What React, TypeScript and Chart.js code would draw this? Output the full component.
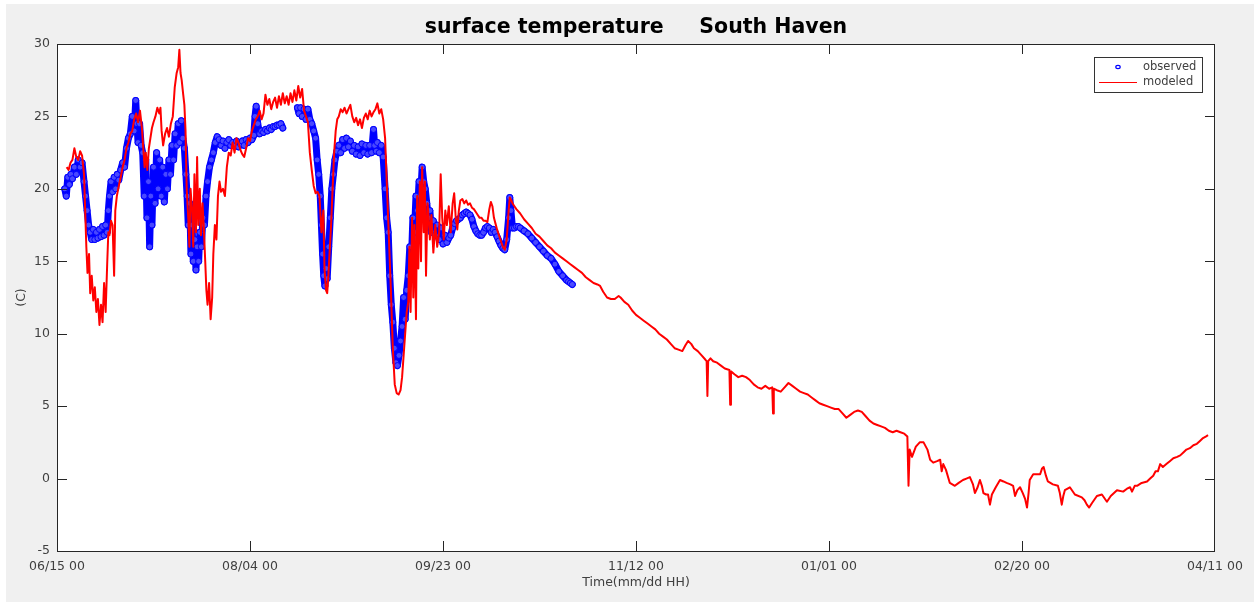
import React, { useEffect, useRef } from "react";
import { Chart, registerables } from "chart.js";

Chart.register(...registerables);

// x values are days since 06/15 00
const xTickDays = [0, 50, 100, 150, 200, 250, 300];
const xTickLabels = ["06/15 00", "08/04 00", "09/23 00", "11/12 00", "01/01 00", "02/20 00", "04/11 00"];
const yTicks = [-5, 0, 5, 10, 15, 20, 25, 30];

const titleText = "surface temperature     South Haven";
const xAxisTitle = "Time(mm/dd HH)";
const yAxisTitle = "(C)";
const legendLabels = ["observed", "modeled"];

// observed surface temperature (C): [day, value]
const observed: [number, number | null][] = [
  [2,20.0],[2.4,19.5],[2.8,20.8],[3.2,20.3],[3.6,21.0],[4,20.7],[4.5,21.5],[5,21.0],[5.5,22.0],[6,21.5],[6.5,21.8],[7,20.5],[7.4,19.5],[7.8,18.5],[8.2,17.5],[8.6,17.0],[9,16.5],[9.4,17.2],[9.8,16.5],[10.2,17.0],[10.6,16.6],[11,17.2],[11.4,16.7],[11.8,17.4],[12.2,16.8],[12.6,17.5],[13,17.0],[13.3,18.5],[13.6,19.5],[14,20.5],[14.4,19.8],[14.8,20.8],[15.2,20.0],[15.6,21.0],[16,20.6],[16.5,21.3],[17,21.8],[17.5,21.5],[18,22.8],[18.5,23.5],[19,23.8],[19.5,25.0],[20,24.0],[20.4,26.1],[20.7,24.5],[21,23.2],[21.4,24.5],[21.8,23.0],[22.2,22.5],[22.6,19.5],[23,22.0],[23.3,18.0],[23.7,20.5],[24,16.0],[24.3,19.5],[24.6,17.5],[25,21.5],[25.4,19.0],[25.8,22.5],[26.2,20.0],[26.6,22.0],[27,19.5],[27.4,21.5],[27.8,19.1],[28.2,21.0],[28.6,20.0],[29,22.0],[29.4,21.0],[29.8,23.0],[30.2,22.0],[30.6,23.8],[31,23.0],[31.4,24.5],[31.8,23.2],[32.2,24.7],[32.6,23.5],[33,22.8],[33.4,21.0],[33.7,19.5],[34,17.5],[34.4,19.0],[34.7,15.5],[35,17.5],[35.3,15.0],[35.7,16.5],[36,14.4],[36.3,16.0],[36.7,15.0],[37,17.0],[37.4,16.0],[37.8,18.0],[38.2,17.5],[38.6,19.5],[39,20.5],[39.5,21.5],[40,22.0],[40.5,22.5],[41,23.2],[41.5,23.6],[42,23.4],[42.5,23.0],[43,23.3],[43.5,22.8],[44,23.2],[44.5,23.4],[45,23.0],[45.5,23.2],[46,23.0],[46.5,23.3],[47,22.9],[47.5,23.1],[48,23.3],[48.5,23.0],[49,23.4],[49.5,23.2],[50,23.5],[50.5,23.4],[51,23.7],[51.3,25.0],[51.6,25.7],[52,24.5],[52.5,23.8],[53,24.0],[53.5,23.9],[54,24.1],[54.5,24.0],[55,24.2],[55.5,24.1],[56,24.3],[56.5,24.3],[57,24.4],[57.5,24.4],[58,24.5],[58.5,24.2],
  [60,null],
  [62.3,25.6],[62.7,25.2],[63.1,25.6],[63.5,25.0],[64,25.5],[64.5,24.8],[65,25.5],[65.5,24.8],[66,24.5],[66.5,24.0],[67,23.5],[67.4,22.0],[67.8,21.0],[68.2,19.5],[68.5,17.5],[68.8,15.5],[69.1,14.0],[69.4,13.3],[69.7,14.5],[70,13.8],[70.4,16.0],[70.8,18.0],[71.2,20.0],[71.6,21.0],[72,22.0],[72.5,22.6],[73,23.0],[73.5,22.5],[74,23.4],[74.5,22.8],[75,23.5],[75.5,22.9],[76,23.3],[76.5,22.6],[77,23.0],[77.5,22.4],[78,22.9],[78.5,22.3],[79,23.1],[79.5,22.5],[80,23.0],[80.5,22.4],[81,23.0],[81.5,22.5],[82,24.1],[82.3,23.0],[82.7,22.6],[83,23.2],[83.5,22.5],[84,23.0],[84.5,22.2],[85,20.0],[85.4,18.0],[85.8,17.0],[86.2,14.0],[86.6,12.0],[87,10.8],[87.4,9.0],[87.8,8.0],[88.2,7.8],[88.6,8.5],[89,9.5],[89.4,10.5],[89.8,12.5],[90.2,11.0],[90.6,13.0],[91,14.0],[91.4,16.0],[91.8,15.0],[92.2,18.0],[92.6,17.0],[93,19.5],[93.4,18.5],[93.8,20.5],[94.2,19.5],[94.6,21.5],[95,20.5],[95.4,20.0],[95.8,19.0],[96.2,18.0],[96.6,18.5],[97,17.0],[97.5,17.8],[98,16.8],[98.5,17.5],[99,16.5],[99.5,17.3],[100,16.2],[100.5,16.8],[101,16.3],[101.5,16.6],[102,16.8],[102.5,17.3],[103,17.6],[103.5,17.8],[104,17.9],[104.5,18.0],[105,18.2],[105.5,18.3],[106,18.4],[106.5,18.3],[107,18.2],[107.5,17.9],[108,17.4],[108.5,17.1],[109,16.9],[109.5,16.8],[110,16.8],[110.5,17.0],[111,17.3],[111.5,17.4],[112,17.3],[112.5,17.0],[113,17.2],[113.5,17.0],[114,16.7],[114.5,16.4],[115,16.1],[115.5,15.9],[116,15.8],[116.5,16.5],[117,18.0],[117.3,19.4],[117.6,18.5],[118,17.3],[118.5,17.3],[119,17.4],[119.5,17.4],[120,17.3],[121,17.1],[122,16.9],[123,16.6],[124,16.3],[125,16.0],[126,15.7],[127,15.4],[128,15.2],[129,14.8],[130,14.3],[131,14.0],[132,13.7],[132.5,13.6],[133,13.5],[133.5,13.4]
];

// modeled surface temperature (C): [day, value]
const modeled: [number, number][] = [
  [2.5,21.5],[3,21.3],[3.5,21.8],[4,22.0],[4.5,22.8],[5,22.2],[5.5,22.0],[6,22.6],[6.5,22.3],[7,21.0],[7.3,18.5],[7.6,16.0],[7.9,14.2],[8.3,15.5],[8.6,12.8],[9,14.0],[9.4,12.3],[9.8,13.2],[10.2,11.5],[10.6,12.4],[11,10.6],[11.4,12.0],[11.8,10.8],[12.2,13.5],[12.6,11.5],[13,14.8],[13.3,17.0],[13.6,16.8],[14,17.8],[14.4,17.5],[14.8,14.0],[15.1,18.5],[15.5,19.5],[16,20.2],[16.5,20.8],[17,21.5],[17.5,22.0],[18,22.8],[18.5,23.2],[19,23.8],[19.5,24.0],[20,24.8],[20.5,25.2],[21,24.6],[21.5,25.4],[22,24.2],[22.3,23.0],[22.7,21.5],[23,22.5],[23.4,21.3],[23.8,22.8],[24.2,23.5],[24.6,24.2],[25,24.6],[25.5,25.0],[26,25.6],[26.5,25.2],[26.8,25.6],[27.1,24.0],[27.5,23.0],[28,23.8],[28.5,24.2],[29,23.6],[29.5,24.5],[30,25.0],[30.5,27.0],[31,28.0],[31.4,28.4],[31.7,29.6],[32,28.0],[32.3,27.5],[32.7,26.5],[33,25.8],[33.3,24.0],[33.6,20.0],[34,18.0],[34.3,16.0],[34.6,20.0],[35,18.5],[35.3,16.0],[35.6,21.0],[36,17.0],[36.3,22.2],[36.6,17.5],[37,20.0],[37.3,16.8],[37.7,19.0],[38,17.5],[38.4,15.0],[38.7,13.0],[39,12.0],[39.4,13.5],[39.8,11.0],[40.2,12.5],[40.5,15.5],[40.9,17.5],[41.3,16.5],[41.7,19.5],[42.1,20.5],[42.5,19.8],[43,20.0],[43.5,19.5],[44,21.5],[44.5,22.5],[45,22.3],[45.5,23.2],[46,22.5],[46.5,23.5],[47,23.2],[47.5,22.7],[48,22.4],[48.5,22.2],[49,22.8],[49.5,23.5],[50,23.3],[50.5,24.0],[51,24.4],[51.5,24.8],[52,25.0],[52.5,25.4],[53,24.8],[53.5,25.2],[54,26.5],[54.5,25.8],[55,26.2],[55.5,25.5],[56,26.0],[56.5,26.3],[57,25.6],[57.5,26.4],[58,25.8],[58.5,26.6],[59,25.9],[59.5,26.4],[60,25.8],[60.5,26.6],[61,26.0],[61.5,26.8],[62,26.1],[62.5,27.1],[63,26.3],[63.5,26.9],[64,25.4],[64.5,25.0],[65,24.6],[65.5,22.5],[66,21.3],[66.5,20.2],[67,19.7],[67.5,19.8],[68,19.5],[68.5,17.0],[69,18.5],[69.3,14.5],[69.7,13.0],[70,12.8],[70.3,14.0],[70.6,15.5],[71,17.5],[71.4,20.0],[71.8,22.5],[72.2,24.0],[72.6,24.8],[73,25.0],[73.5,25.5],[74,25.3],[74.5,25.6],[75,25.2],[75.5,25.5],[76,25.8],[76.5,25.0],[77,24.6],[77.5,24.9],[78,24.4],[78.5,24.8],[79,24.2],[79.5,24.9],[80,25.2],[80.5,24.8],[81,25.4],[81.5,25.0],[82,25.3],[82.5,25.5],[83,25.9],[83.5,25.2],[84,25.5],[84.5,24.8],[85,23.5],[85.5,20.0],[86,16.5],[86.5,13.0],[87,9.0],[87.5,6.5],[88,5.9],[88.5,5.8],[89,6.1],[89.4,7.0],[89.8,8.5],[90.2,10.0],[90.6,11.5],[91,12.2],[91.3,16.0],[91.6,11.5],[92,18.0],[92.3,12.5],[92.6,17.5],[93,11.0],[93.3,19.5],[93.6,14.5],[94,20.5],[94.3,15.0],[94.6,21.5],[95,17.0],[95.3,20.5],[95.6,14.0],[96,19.0],[96.3,18.0],[96.6,16.5],[97,18.2],[97.5,15.6],[98,17.5],[98.5,16.0],[99,17.0],[99.4,21.0],[99.8,18.0],[100.2,16.5],[100.6,18.5],[101,17.5],[101.5,18.8],[102,17.0],[102.5,19.0],[102.9,19.7],[103.3,18.0],[103.7,17.2],[104.1,18.5],[104.5,19.2],[105,19.3],[105.5,19.0],[106,19.2],[106.5,18.9],[107,19.0],[107.5,18.7],[108,18.6],[108.5,18.4],[109,18.2],[109.5,18.0],[110,18.0],[110.5,17.8],[111,17.8],[111.5,17.7],[112,18.6],[112.4,19.1],[112.8,18.8],[113.2,18.0],[113.6,17.6],[114,17.2],[114.5,16.8],[115,16.4],[115.5,16.0],[116,15.8],[116.5,16.5],[117,18.5],[117.3,19.4],[117.7,19.2],[118,19.0],[118.5,18.8],[119,18.6],[120,18.3],[121,17.9],[122,17.6],[123,17.3],[124,16.9],[125,16.7],[126,16.4],[127,16.1],[128,15.9],[129,15.6],[130,15.4],[131,15.2],[132,15.0],[133,14.8],[134,14.6],[135,14.4],[136,14.2],[137,13.9],[138,13.7],[139,13.5],[140,13.4],[140.7,13.3],[141.5,12.9],[142.5,12.5],[143.5,12.4],[144.5,12.4],[145.5,12.6],[146,12.5],[147,12.2],[148,12.0],[149,11.6],[150,11.3],[151,11.1],[152,10.9],[153,10.7],[154,10.5],[155,10.3],[156,10.0],[157,9.8],[158,9.6],[159,9.3],[160,9.0],[161,8.9],[162,8.8],[162.8,9.2],[163.5,9.5],[164.3,9.3],[165,9.0],[166,8.8],[167,8.5],[168,8.2],[168.3,8.1],[168.5,5.7],[168.7,8.1],[169.3,8.3],[170,8.1],[171,8.0],[172,7.8],[173,7.6],[174.2,7.5],[174.4,5.1],[174.6,7.4],[175.5,7.2],[176.5,7.0],[177.5,7.1],[178.5,7.0],[179.5,6.8],[180.5,6.5],[181.5,6.3],[182.5,6.2],[183.5,6.4],[184.5,6.2],[185.3,6.3],[185.5,4.5],[185.7,6.2],[186.5,6.1],[187.5,6.0],[188.5,6.3],[189.5,6.6],[190.5,6.4],[191.5,6.2],[192.5,6.0],[193.5,5.9],[194.5,5.8],[195.5,5.6],[196.5,5.4],[197.5,5.2],[198.5,5.1],[199.5,5.0],[200.5,4.9],[201.5,4.8],[202.5,4.8],[203.5,4.5],[204.5,4.2],[205.5,4.4],[206.5,4.6],[207.5,4.7],[208.5,4.6],[209.5,4.3],[210.5,4.0],[211.5,3.8],[212.5,3.7],[213.5,3.6],[214.5,3.5],[215.5,3.3],[216.5,3.2],[217.5,3.3],[218.5,3.2],[219.5,3.1],[220.3,2.9],[220.6,-0.5],[220.9,2.0],[221.5,1.5],[222.5,2.2],[223.5,2.5],[224.5,2.5],[225.5,2.0],[226.2,1.3],[227,1.1],[228,1.2],[228.8,1.3],[229.2,0.5],[229.6,1.0],[230.3,0.6],[231.3,-0.3],[232.6,-0.5],[233.6,-0.3],[234.7,-0.1],[235.6,0.0],[236.5,0.1],[237.3,-0.4],[237.8,-1.0],[238.5,-0.6],[239.1,-0.1],[239.6,-0.5],[240,-1.0],[240.7,-1.1],[241.2,-1.1],[241.7,-1.8],[242.2,-1.1],[243.2,-0.6],[244.3,-0.1],[245.2,-0.2],[246,-0.3],[247,-0.4],[247.7,-0.5],[248.2,-1.2],[248.8,-0.8],[249.5,-0.6],[250.2,-1.0],[250.8,-1.4],[251.3,-2.0],[251.7,-1.0],[252,-0.1],[252.9,0.3],[253.8,0.3],[254.7,0.3],[255.2,0.7],[255.6,0.8],[256.2,0.2],[256.7,-0.2],[258,-0.4],[259.3,-0.5],[259.8,-1.0],[260.3,-1.8],[260.7,-1.2],[261.1,-0.8],[262.4,-0.6],[263.7,-1.1],[265.5,-1.3],[266.2,-1.5],[266.8,-1.8],[267.4,-2.0],[268.1,-1.7],[269.4,-1.2],[270.7,-1.1],[272,-1.6],[273,-1.2],[274.6,-0.8],[276.2,-0.9],[277.2,-0.7],[278,-0.6],[278.5,-0.9],[279.2,-0.5],[279.8,-0.5],[281,-0.3],[282.4,-0.2],[283.2,0.0],[284,0.2],[284.6,0.5],[285.2,0.5],[285.8,1.0],[286.5,0.8],[287.4,1.0],[288.3,1.2],[289.2,1.4],[290.2,1.5],[291,1.6],[291.8,1.8],[292.6,2.0],[293.5,2.1],[294.4,2.3],[295.3,2.4],[296.1,2.6],[296.9,2.8],[297.6,2.9],[298.2,3.0]
];

const FONT = "'DejaVu Sans', sans-serif";
const AXIS_COLOR = "#262626";
const TEXT_COLOR = "#404040";
const TICK_LEN = 10;

const decorPlugin = {
  id: "matlabDecor",
  afterDraw(chart: any) {
    const { ctx, chartArea: a, scales } = chart;
    const xs = scales.x;
    const ys = scales.y;
    const L = Math.round(a.left);
    const R = Math.round(a.right) - 1;
    const T = Math.round(a.top);
    const B = Math.round(a.bottom);
    ctx.save();
    ctx.fillStyle = AXIS_COLOR;
    ctx.fillRect(L, T, R - L + 1, 1);
    ctx.fillRect(L, B, R - L + 1, 1);
    ctx.fillRect(L, T, 1, B - T + 1);
    ctx.fillRect(R, T, 1, B - T + 1);
    xTickDays.forEach((v) => {
      const px = Math.min(R, Math.round(xs.getPixelForValue(v)));
      ctx.fillRect(px, B - TICK_LEN, 1, TICK_LEN);
      ctx.fillRect(px, T, 1, TICK_LEN);
    });
    yTicks.forEach((v) => {
      const py = Math.round(ys.getPixelForValue(v));
      ctx.fillRect(L, py, TICK_LEN, 1);
      ctx.fillRect(R - TICK_LEN + 1, py, TICK_LEN, 1);
    });

    // title
    ctx.fillStyle = "#000000";
    ctx.font = `bold 20.5px ${FONT}`;
    ctx.textAlign = "center";
    ctx.textBaseline = "middle";
    ctx.fillText(titleText, (a.left + a.right) / 2, a.top - 16);

    // axis titles
    ctx.fillStyle = TEXT_COLOR;
    ctx.font = `12.5px ${FONT}`;
    ctx.fillText(xAxisTitle, (a.left + a.right) / 2, a.bottom + 32);
    ctx.save();
    ctx.translate(a.left - 35, (a.top + a.bottom) / 2);
    ctx.rotate(-Math.PI / 2);
    ctx.fillText(yAxisTitle, 0, 0);
    ctx.restore();

    // legend
    const bw = 108, bh = 35;
    const bx = Math.round(a.right - 13 - bw);
    const by = Math.round(a.top + 13);
    ctx.fillStyle = "#ffffff";
    ctx.fillRect(bx, by, bw, bh);
    ctx.fillStyle = "#333333";
    ctx.fillRect(bx, by, bw, 1);
    ctx.fillRect(bx, by + bh, bw + 1, 1);
    ctx.fillRect(bx, by, 1, bh);
    ctx.fillRect(bx + bw, by, 1, bh);
    ctx.fillStyle = TEXT_COLOR;
    ctx.font = `11.5px ${FONT}`;
    ctx.textAlign = "left";
    ctx.fillText(legendLabels[0], bx + 49, by + 10);
    ctx.fillText(legendLabels[1], bx + 49, by + 25);
    ctx.strokeStyle = "#0000ff";
    ctx.lineWidth = 1.2;
    ctx.beginPath();
    ctx.ellipse(bx + 24, by + 10, 2.2, 1.6, 0, 0, Math.PI * 2);
    ctx.stroke();
    ctx.fillStyle = "#ff0000";
    ctx.fillRect(bx + 5, by + 25, 38, 1);
    ctx.restore();
  },
};

export default function App() {
  const canvasRef = useRef<HTMLCanvasElement | null>(null);

  useEffect(() => {
    const canvas = canvasRef.current;
    if (!canvas) return;
    const chart = new Chart(canvas, {
      type: "line",
      data: {
        datasets: [
          {
            label: legendLabels[0],
            data: observed.map(([x, y]) => ({ x, y })),
            borderColor: "#0000ff",
            borderWidth: 7,
            borderJoinStyle: "round",
            borderCapStyle: "round",
            pointRadius: 3,
            pointBorderWidth: 1,
            pointBorderColor: "#0000ff",
            pointBackgroundColor: "rgba(80,80,255,0.9)",
            showLine: true,
            spanGaps: false,
            tension: 0,
            order: 2,
          },
          {
            label: legendLabels[1],
            data: modeled.map(([x, y]) => ({ x, y })),
            borderColor: "#ff0000",
            borderWidth: 2,
            borderJoinStyle: "round",
            pointRadius: 0,
            tension: 0,
            order: 1,
          },
        ],
      },
      options: {
        responsive: false,
        animation: false,
        events: [],
        layout: { padding: { top: 40, right: 39, left: 0, bottom: 0 } },
        plugins: {
          legend: { display: false },
          title: { display: false },
          tooltip: { enabled: false },
        },
        scales: {
          x: {
            type: "linear",
            min: xTickDays[0],
            max: xTickDays[xTickDays.length - 1],
            afterBuildTicks: (s: any) => {
              s.ticks = xTickDays.map((v) => ({ value: v }));
            },
            afterFit: (s: any) => {
              s.height = 51;
            },
            grid: { display: false, drawTicks: false },
            border: { display: false },
            ticks: {
              padding: 8,
              maxRotation: 0,
              autoSkip: false,
              color: TEXT_COLOR,
              font: { family: FONT, size: 12.5 },
              callback: (v: any) => {
                const i = xTickDays.indexOf(Number(v));
                return i >= 0 ? xTickLabels[i] : "";
              },
            },
          },
          y: {
            type: "linear",
            min: yTicks[0],
            max: yTicks[yTicks.length - 1],
            afterBuildTicks: (s: any) => {
              s.ticks = yTicks.map((v) => ({ value: v }));
            },
            afterFit: (s: any) => {
              s.width = 51;
            },
            grid: { display: false, drawTicks: false },
            border: { display: false },
            ticks: {
              padding: 7,
              autoSkip: false,
              color: TEXT_COLOR,
              font: { family: FONT, size: 12.5 },
              callback: (v: any) => String(v),
            },
          },
        },
      },
      plugins: [decorPlugin],
    });
    return () => chart.destroy();
  }, []);

  return (
    <div
      style={{
        position: "fixed",
        left: 6,
        top: 4,
        width: 1248,
        height: 598,
        background: "#f0f0f0",
      }}
    >
      <div
        style={{
          position: "absolute",
          left: 51,
          top: 40,
          width: 1158,
          height: 507,
          background: "#ffffff",
        }}
      />
      <canvas
        ref={canvasRef}
        width={1248}
        height={598}
        style={{ display: "block", position: "absolute", left: 0, top: 0 }}
      />
    </div>
  );
}
